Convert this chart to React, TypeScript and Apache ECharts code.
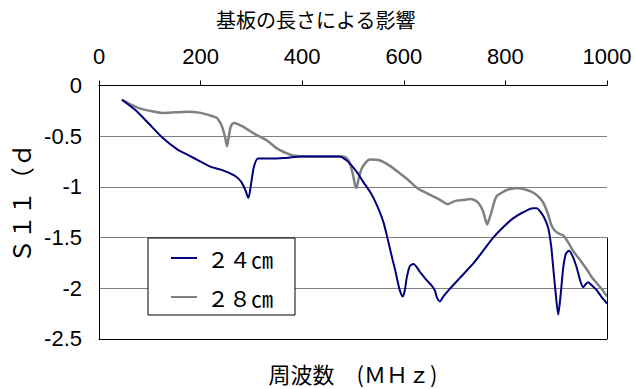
import React, { useEffect, useRef } from "react";
import * as echarts from "echarts";

// Frequency (MHz) and S11 (dB) readings for the two board lengths
const freq24 = [45, 71, 97, 124, 154, 173, 200, 219, 240, 255, 270, 280, 288, 294, 300, 305, 313, 340, 363, 400, 435, 474, 485, 494, 507, 520, 535, 547, 560, 569, 577, 583, 590, 595, 598, 602, 606, 612, 619, 632, 645, 656, 661, 666, 671, 678, 688, 710, 736, 756, 776, 795, 815, 835, 854, 862, 868, 876, 884, 890, 894, 899, 904, 909, 914, 919, 925, 932, 940, 947, 953, 958, 963, 970, 980, 990, 1000];
const s11_24 = [-0.14, -0.24, -0.37, -0.51, -0.63, -0.68, -0.75, -0.8, -0.83, -0.86, -0.9, -0.95, -1.03, -1.11, -0.95, -0.8, -0.72, -0.72, -0.715, -0.7, -0.7, -0.7, -0.73, -0.77, -0.85, -0.95, -1.06, -1.18, -1.35, -1.53, -1.7, -1.82, -1.98, -2.06, -2.08, -2.02, -1.89, -1.78, -1.76, -1.84, -1.92, -1.98, -2.02, -2.1, -2.13, -2.08, -2.02, -1.9, -1.76, -1.63, -1.5, -1.4, -1.31, -1.25, -1.21, -1.21, -1.24, -1.3, -1.4, -1.58, -1.79, -2.05, -2.26, -2.05, -1.79, -1.66, -1.63, -1.68, -1.79, -1.92, -1.99, -1.96, -1.94, -1.97, -2.02, -2.09, -2.15];

const freq28 = [45, 60, 77, 100, 124, 150, 175, 200, 215, 232, 240, 244, 249, 252, 255, 258, 262, 266, 285, 307, 330, 350, 370, 382, 410, 435, 480, 488, 494, 500, 504, 507, 511, 517, 525, 533, 553, 575, 593, 606, 626, 632, 657, 672, 687, 700, 717, 730, 743, 750, 756, 760, 764, 768, 773, 778, 783, 795, 803, 823, 842, 856, 868, 876, 884, 890, 897, 905, 914, 924, 933, 947, 961, 970, 980, 990, 1000];
const s11_28 = [-0.14, -0.18, -0.22, -0.25, -0.27, -0.265, -0.26, -0.27, -0.29, -0.32, -0.38, -0.43, -0.53, -0.6, -0.52, -0.43, -0.38, -0.37, -0.41, -0.48, -0.54, -0.62, -0.67, -0.69, -0.7, -0.7, -0.7, -0.72, -0.77, -0.88, -0.98, -1.01, -0.92, -0.82, -0.76, -0.73, -0.74, -0.8, -0.87, -0.92, -1.01, -1.03, -1.09, -1.13, -1.17, -1.14, -1.13, -1.12, -1.14, -1.18, -1.24, -1.31, -1.37, -1.32, -1.24, -1.15, -1.09, -1.05, -1.03, -1.01, -1.03, -1.06, -1.11, -1.17, -1.27, -1.37, -1.43, -1.46, -1.48, -1.55, -1.63, -1.72, -1.82, -1.89, -1.95, -2.01, -2.08];

const seriesNames = ["２４㎝", "２８㎝"];
const xTicks = { min: 0, max: 1000, interval: 200 };
const yTicks = { min: -2.5, max: 0, interval: 0.5 };

const LATIN = "Liberation Sans, Arial, sans-serif";
const CJK = "Noto Sans CJK JP, sans-serif";

const pair = (xs: number[], ys: number[]) => xs.map((x, i) => [x, ys[i]]);

export default function App() {
  const ref = useRef<HTMLDivElement>(null);

  useEffect(() => {
    if (!ref.current) return;
    const chart = echarts.init(ref.current, undefined, { renderer: "svg" });
    chart.setOption({
      animation: false,
      backgroundColor: "#ffffff",
      title: {
        text: "基板の長さによる影響",
        left: 216,
        top: 9,
        padding: 0,
        textStyle: { fontFamily: CJK, fontSize: 20, fontWeight: "normal", color: "#000" },
      },
      grid: { left: 99, right: 28, top: 85.5, bottom: 46, containLabel: false },
      legend: {
        orient: "vertical",
        left: 148,
        top: 238,
        padding: [9, 22, 7, 23],
        itemGap: 17,
        itemWidth: 26,
        itemHeight: 22,
        icon: "path://M0,10.5 L26,10.5 L26,12.5 L0,12.5 Z",
        backgroundColor: "#ffffff",
        borderColor: "#000",
        borderWidth: 1,
        borderRadius: 0,
        textStyle: { fontFamily: CJK, fontSize: 22, color: "#000", padding: [0, 0, 0, 5] },
        data: seriesNames,
      },
      xAxis: [
        {
          type: "value",
          position: "top",
          ...xTicks,
          axisLine: { show: true, lineStyle: { color: "#000", width: 1 } },
          axisTick: { show: true, inside: false, length: 5, lineStyle: { color: "#000" } },
          axisLabel: {
            fontFamily: LATIN,
            fontSize: 22,
            color: "#000",
            margin: 18,
            formatter: (v: number) => String(v),
          },
          splitLine: { show: false },
        },
        {
          type: "value",
          position: "bottom",
          ...xTicks,
          name: "周波数　(ＭＨｚ)",
          nameLocation: "middle",
          nameGap: 23,
          nameTextStyle: { fontFamily: CJK, fontSize: 22, color: "#000" },
          axisLine: { show: true, onZero: false, lineStyle: { color: "#000", width: 1 } },
          axisTick: { show: false },
          axisLabel: { show: false },
          splitLine: { show: false },
        },
      ],
      yAxis: {
        type: "value",
        ...yTicks,
        name: "Ｓ１１（ｄ",
        nameLocation: "middle",
        nameRotate: 90,
        nameGap: 67,
        nameTextStyle: { fontFamily: CJK, fontSize: 24, color: "#000", padding: [0, 0, 0, 18] },
        axisLine: { show: true, onZero: false, lineStyle: { color: "#000", width: 1 } },
        axisTick: { show: false },
        axisLabel: {
          fontFamily: LATIN,
          fontSize: 22,
          color: "#000",
          margin: 17,
          formatter: (v: number) => String(v),
        },
        splitLine: { show: true, lineStyle: { color: "#808080", width: 1 } },
      },
      series: [
        {
          name: seriesNames[0],
          type: "line",
          xAxisIndex: 0,
          data: pair(freq24, s11_24),
          symbol: "none",
          smooth: 0.25,
          lineStyle: { color: "#000080", width: 2 },
          itemStyle: { color: "#000080" },
          z: 3,
        },
        {
          name: seriesNames[1],
          type: "line",
          xAxisIndex: 0,
          data: pair(freq28, s11_28),
          symbol: "none",
          smooth: 0.25,
          lineStyle: { color: "#808080", width: 2.5 },
          itemStyle: { color: "#808080" },
          z: 2,
          // right-hand frame segment along the lower part of the plot
          markLine: {
            silent: true,
            symbol: ["none", "none"],
            label: { show: false },
            lineStyle: { color: "#000", width: 1, type: "solid" },
            data: [[{ coord: [xTicks.max, -1.5] }, { coord: [xTicks.max, yTicks.min] }]],
          },
        },
      ],
    });
    return () => chart.dispose();
  }, []);

  return (
    <div
      ref={ref}
      style={{ position: "absolute", left: 0, top: 0, width: 635, height: 389 }}
    />
  );
}
